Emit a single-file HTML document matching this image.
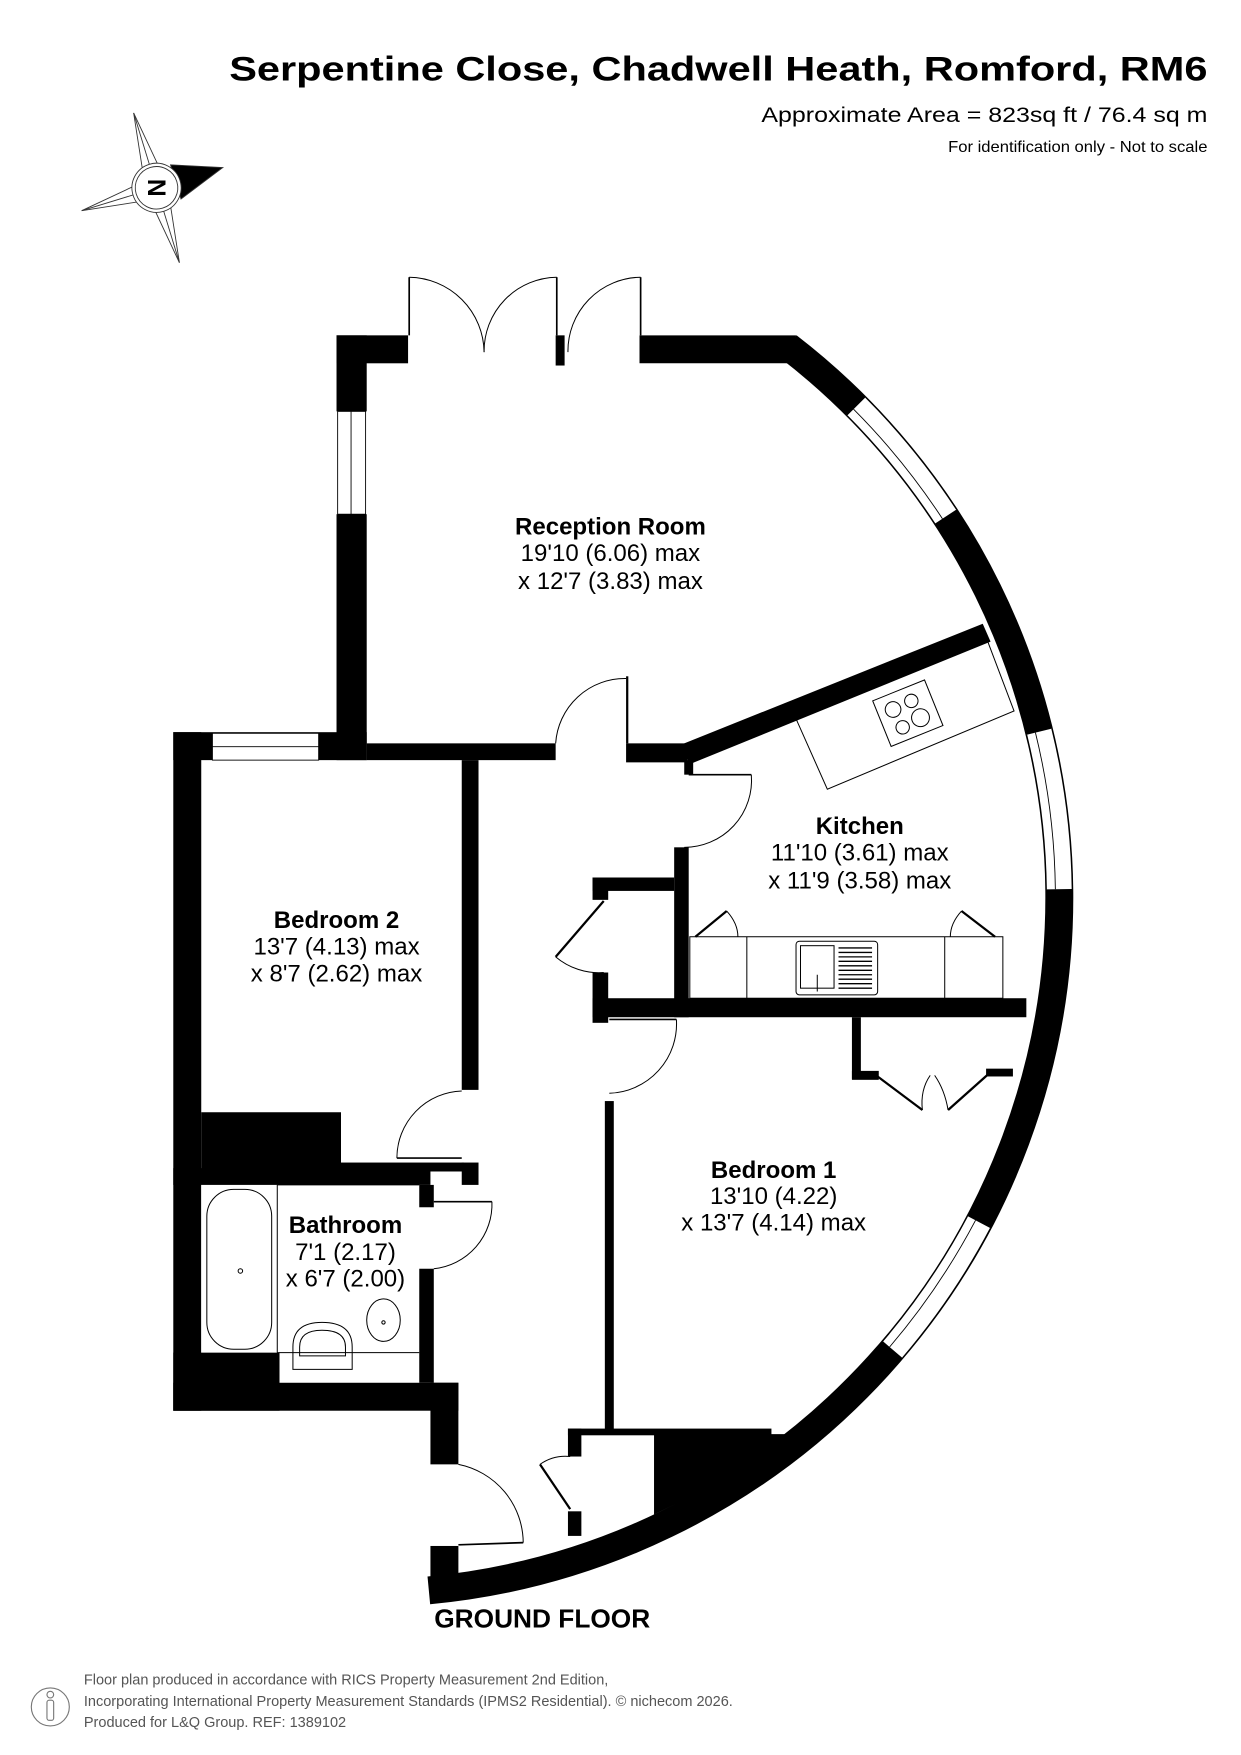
<!DOCTYPE html>
<html><head><meta charset="utf-8"><style>
html,body{margin:0;padding:0;background:#fff}
svg{display:block}
text{font-family:"Liberation Sans",Arial,sans-serif}
</style></head><body>
<svg width="1241" height="1755" viewBox="0 0 1110 1570" preserveAspectRatio="none" xmlns="http://www.w3.org/2000/svg">
<rect width="1110" height="1570" fill="#fff"/>
<text x="1080" y="72" text-anchor="end" font-size="31" font-weight="bold" textLength="875" lengthAdjust="spacingAndGlyphs">Serpentine Close, Chadwell Heath, Romford, RM6</text>
<text x="1080" y="109" text-anchor="end" font-size="19" textLength="399" lengthAdjust="spacingAndGlyphs">Approximate Area = 823sq ft / 76.4 sq m</text>
<text x="1080" y="136" text-anchor="end" font-size="14" textLength="232" lengthAdjust="spacingAndGlyphs">For identification only - Not to scale</text>

<g transform="translate(140,168) rotate(-17)" stroke="#333" stroke-width="0.8" fill="#fff">
<polygon points="0,-70 8,-14 -8,-14"/><line x1="0" y1="-70" x2="0" y2="-20"/>
<polygon points="0,70 8,14 -8,14"/><line x1="0" y1="70" x2="0" y2="20"/>
<polygon points="-70,0 -14,8 -14,-8"/><line x1="-70" y1="0" x2="-20" y2="0"/>
<polygon points="62,0 18,-16 18,16" fill="#000"/>
<circle r="22"/><circle r="19"/>
<text x="0" y="8" text-anchor="middle" font-size="22" font-weight="bold" fill="#000" stroke="none" transform="rotate(-73)">N</text>
</g>

<g fill="none">
<circle cx="325" cy="803" r="622.5" stroke="#000" stroke-width="25" pathLength="360" stroke-dasharray="137 223" stroke-dashoffset="52.4"/>
<circle cx="325" cy="803" r="622.5" stroke="#fff" stroke-width="23" pathLength="360" stroke-dasharray="11.7 348.3" stroke-dashoffset="44.9"/>
<circle cx="325" cy="803" r="622.5" stroke="#fff" stroke-width="23" pathLength="360" stroke-dasharray="13.1 346.9" stroke-dashoffset="13.8"/>
<circle cx="325" cy="803" r="622.5" stroke="#fff" stroke-width="23" pathLength="360" stroke-dasharray="12.7 347.3" stroke-dashoffset="-27.8"/>
<g stroke="#000" stroke-width="0.8">
<circle cx="325" cy="803" r="611" pathLength="360" stroke-dasharray="11.7 348.3" stroke-dashoffset="44.9"/>
<circle cx="325" cy="803" r="619" pathLength="360" stroke-dasharray="11.7 348.3" stroke-dashoffset="44.9"/>
<circle cx="325" cy="803" r="634" pathLength="360" stroke-dasharray="11.7 348.3" stroke-dashoffset="44.9"/>
<circle cx="325" cy="803" r="611" pathLength="360" stroke-dasharray="13.1 346.9" stroke-dashoffset="13.8"/>
<circle cx="325" cy="803" r="619" pathLength="360" stroke-dasharray="13.1 346.9" stroke-dashoffset="13.8"/>
<circle cx="325" cy="803" r="634" pathLength="360" stroke-dasharray="13.1 346.9" stroke-dashoffset="13.8"/>
<circle cx="325" cy="803" r="611" pathLength="360" stroke-dasharray="12.7 347.3" stroke-dashoffset="-27.8"/>
<circle cx="325" cy="803" r="619" pathLength="360" stroke-dasharray="12.7 347.3" stroke-dashoffset="-27.8"/>
<circle cx="325" cy="803" r="634" pathLength="360" stroke-dasharray="12.7 347.3" stroke-dashoffset="-27.8"/>
</g>
</g>

<g fill="#000">
<rect x="301" y="300" width="64" height="25"/>
<rect x="301" y="300" width="27" height="68"/>
<rect x="301" y="460" width="27" height="220"/>
<rect x="497" y="300" width="8" height="27"/>
<polygon points="572,300 712,300 706,325 572,325"/>
<rect x="328" y="665" width="169" height="15"/>
<rect x="560" y="665" width="55" height="17"/>
<rect x="560" y="605" width="2" height="60"/>
<polygon points="612,665 879,558 886,574 616,684"/>
<rect x="612" y="680" width="8" height="13"/>
<rect x="603" y="758" width="13" height="152"/>
<rect x="530" y="785" width="73" height="12"/>
<rect x="530" y="785" width="14" height="20"/>
<rect x="530" y="870" width="14" height="45"/>
<rect x="530" y="893" width="388" height="17"/>
<rect x="155" y="655" width="173" height="25"/>
<rect x="155" y="655" width="25" height="607"/>
<rect x="413" y="680" width="15" height="295"/>
<rect x="180" y="995" width="125" height="55"/>
<rect x="305" y="1040" width="110" height="8"/>
<rect x="413" y="1040" width="15" height="20"/>
<rect x="155" y="1045" width="230" height="15"/>
<rect x="375" y="1060" width="13" height="20"/>
<rect x="375" y="1135" width="13" height="102"/>
<rect x="155" y="1210" width="95" height="52"/>
<rect x="155" y="1237" width="255" height="25"/>
<rect x="385" y="1237" width="25" height="73"/>
<rect x="541" y="985" width="8" height="298"/>
<rect x="508" y="1278" width="182" height="6"/>
<rect x="508" y="1278" width="12" height="25"/>
<rect x="508" y="1352" width="12" height="22"/>
<polygon points="585,1283 705,1283 660,1318 620,1338 585,1355"/>
<rect x="385" y="1383" width="25" height="45"/>
<rect x="762" y="910" width="8" height="55"/>
<rect x="762" y="958" width="24" height="8"/>
<rect x="882" y="956" width="24" height="7"/>
</g>

<g stroke="#000" stroke-width="0.8" fill="#fff">
<rect x="302" y="368" width="25" height="92"/>
<line x1="314" y1="368" x2="314" y2="460"/>
<rect x="190" y="656" width="95" height="24"/>
<line x1="190" y1="668" x2="285" y2="668"/>
</g>

<g fill="none" stroke="#000" stroke-width="0.9">
<line x1="366" y1="248" x2="366" y2="300" stroke-width="1.5"/>
<path d="M366,248 A68,68 0 0 1 433,315"/>
<line x1="498" y1="248" x2="498" y2="300" stroke-width="1.5"/>
<path d="M498,248 A66,66 0 0 0 433,315"/>
<line x1="573" y1="248" x2="573" y2="300" stroke-width="1.5"/>
<path d="M573,248 A66,66 0 0 0 508,315"/>
<path d="M560,607 A62,62 0 0 0 497,665"/>
<line x1="616" y1="693" x2="672" y2="693" stroke-width="1.5"/>
<path d="M672,693 A60,60 0 0 1 612,758"/>
<line x1="540" y1="806" x2="497" y2="856" stroke-width="2"/>
<path d="M497,856 A60,60 0 0 0 540,870"/>
<line x1="545" y1="912" x2="605" y2="912" stroke-width="1.5"/>
<path d="M605,912 A62,62 0 0 1 545,978"/>
<line x1="355" y1="1036" x2="413" y2="1036" stroke-width="1.5"/>
<path d="M355,1036 A60,60 0 0 1 413,976"/>
<line x1="388" y1="1075" x2="440" y2="1075" stroke-width="1.5"/>
<path d="M440,1075 A58,58 0 0 1 388,1135"/>
<line x1="410" y1="1382" x2="468" y2="1380" stroke-width="1.5"/>
<path d="M410,1310 A72,72 0 0 1 468,1380"/>
<line x1="483" y1="1310" x2="510" y2="1350" stroke-width="2"/>
<path d="M483,1310 A40,40 0 0 1 510,1303"/>
<line x1="785" y1="963" x2="825" y2="993" stroke-width="2"/>
<line x1="885" y1="960" x2="848" y2="993" stroke-width="2"/>
<path d="M825,993 Q823,975 832,962 M848,993 Q845,975 836,962"/>
<line x1="622" y1="838" x2="650" y2="815" stroke-width="2"/>
<path d="M650,815 Q660,826 660,838"/>
<line x1="890" y1="838" x2="860" y2="815" stroke-width="2"/>
<path d="M860,815 Q850,826 850,838"/>
</g>

<g fill="none" stroke="#000" stroke-width="0.9">
<rect x="617" y="838" width="280" height="55"/>
<line x1="668" y1="838" x2="668" y2="893"/>
<line x1="845" y1="838" x2="845" y2="893"/>
<rect x="712" y="842" width="73" height="48" rx="3"/>
<rect x="716" y="846" width="30" height="38"/>
<g stroke-width="1.2"><line x1="750" y1="848" x2="780" y2="848"/><line x1="750" y1="852" x2="780" y2="852"/><line x1="750" y1="856" x2="780" y2="856"/><line x1="750" y1="860" x2="780" y2="860"/><line x1="750" y1="864" x2="780" y2="864"/><line x1="750" y1="868" x2="780" y2="868"/><line x1="750" y1="872" x2="780" y2="872"/><line x1="750" y1="876" x2="780" y2="876"/><line x1="750" y1="880" x2="780" y2="880"/><line x1="750" y1="884" x2="780" y2="884"/></g>
<line x1="731" y1="872" x2="731" y2="887"/>
<polygon points="712,643 882,570 907,636 740,706"/>
<g transform="translate(812,638) rotate(-22)">
<rect x="-25" y="-22" width="50" height="44"/>
<circle cx="-11" cy="-8" r="7"/><circle cx="7" cy="-9" r="6"/><circle cx="-9" cy="10" r="6"/><circle cx="9" cy="8" r="8"/>
</g>
</g>

<g fill="none" stroke="#000" stroke-width="0.9">
<line x1="180" y1="1060" x2="375" y2="1060"/>
<rect x="180" y="1060" width="68" height="150" fill="#fff" stroke="none"/>
<line x1="248" y1="1060" x2="248" y2="1210"/>
<rect x="185" y="1064" width="58" height="143" rx="24"/>
<circle cx="215" cy="1137" r="2"/>
<line x1="248" y1="1210" x2="375" y2="1210"/>
<path d="M262,1225 L262,1205 Q262,1183 288,1183 Q315,1183 315,1205 L315,1225 Z"/>
<path d="M268,1213 L268,1205 Q268,1190 288,1190 Q309,1190 309,1205 L309,1213 Z"/>
<ellipse cx="343" cy="1181" rx="15" ry="19"/>
<circle cx="343" cy="1183" r="1.5"/>
</g>

<g text-anchor="middle" fill="#000">
<text x="546" y="478" font-size="21.5" font-weight="bold">Reception Room</text>
<text x="546" y="502" font-size="21.5">19'10 (6.06) max</text>
<text x="546" y="527" font-size="21.5">x 12'7 (3.83) max</text>
<text x="769" y="746" font-size="21.5" font-weight="bold">Kitchen</text>
<text x="769" y="770" font-size="21.5">11'10 (3.61) max</text>
<text x="769" y="795" font-size="21.5">x 11'9 (3.58) max</text>
<text x="301" y="830" font-size="21.5" font-weight="bold">Bedroom 2</text>
<text x="301" y="854" font-size="21.5">13'7 (4.13) max</text>
<text x="301" y="878" font-size="21.5">x 8'7 (2.62) max</text>
<text x="692" y="1054" font-size="21.5" font-weight="bold">Bedroom 1</text>
<text x="692" y="1077" font-size="21.5">13'10 (4.22)</text>
<text x="692" y="1101" font-size="21.5">x 13'7 (4.14) max</text>
<text x="309" y="1103" font-size="21.5" font-weight="bold">Bathroom</text>
<text x="309" y="1127" font-size="21.5">7'1 (2.17)</text>
<text x="309" y="1151" font-size="21.5">x 6'7 (2.00)</text>
<text x="485" y="1456" font-size="23.5" font-weight="bold">GROUND FLOOR</text>
</g>

<g fill="none" stroke="#777" stroke-width="1">
<circle cx="45" cy="1527" r="17"/>
<circle cx="45" cy="1516" r="3"/>
<rect x="42" y="1521" width="6" height="18" rx="2"/>
</g>
<g fill="#555" font-size="13">
<text x="75" y="1507">Floor plan produced in accordance with RICS Property Measurement 2nd Edition,</text>
<text x="75" y="1526">Incorporating International Property Measurement Standards (IPMS2 Residential).   © nichecom 2026.</text>
<text x="75" y="1545">Produced for L&amp;Q Group.   REF: 1389102</text>
</g>
</svg>
</body></html>
